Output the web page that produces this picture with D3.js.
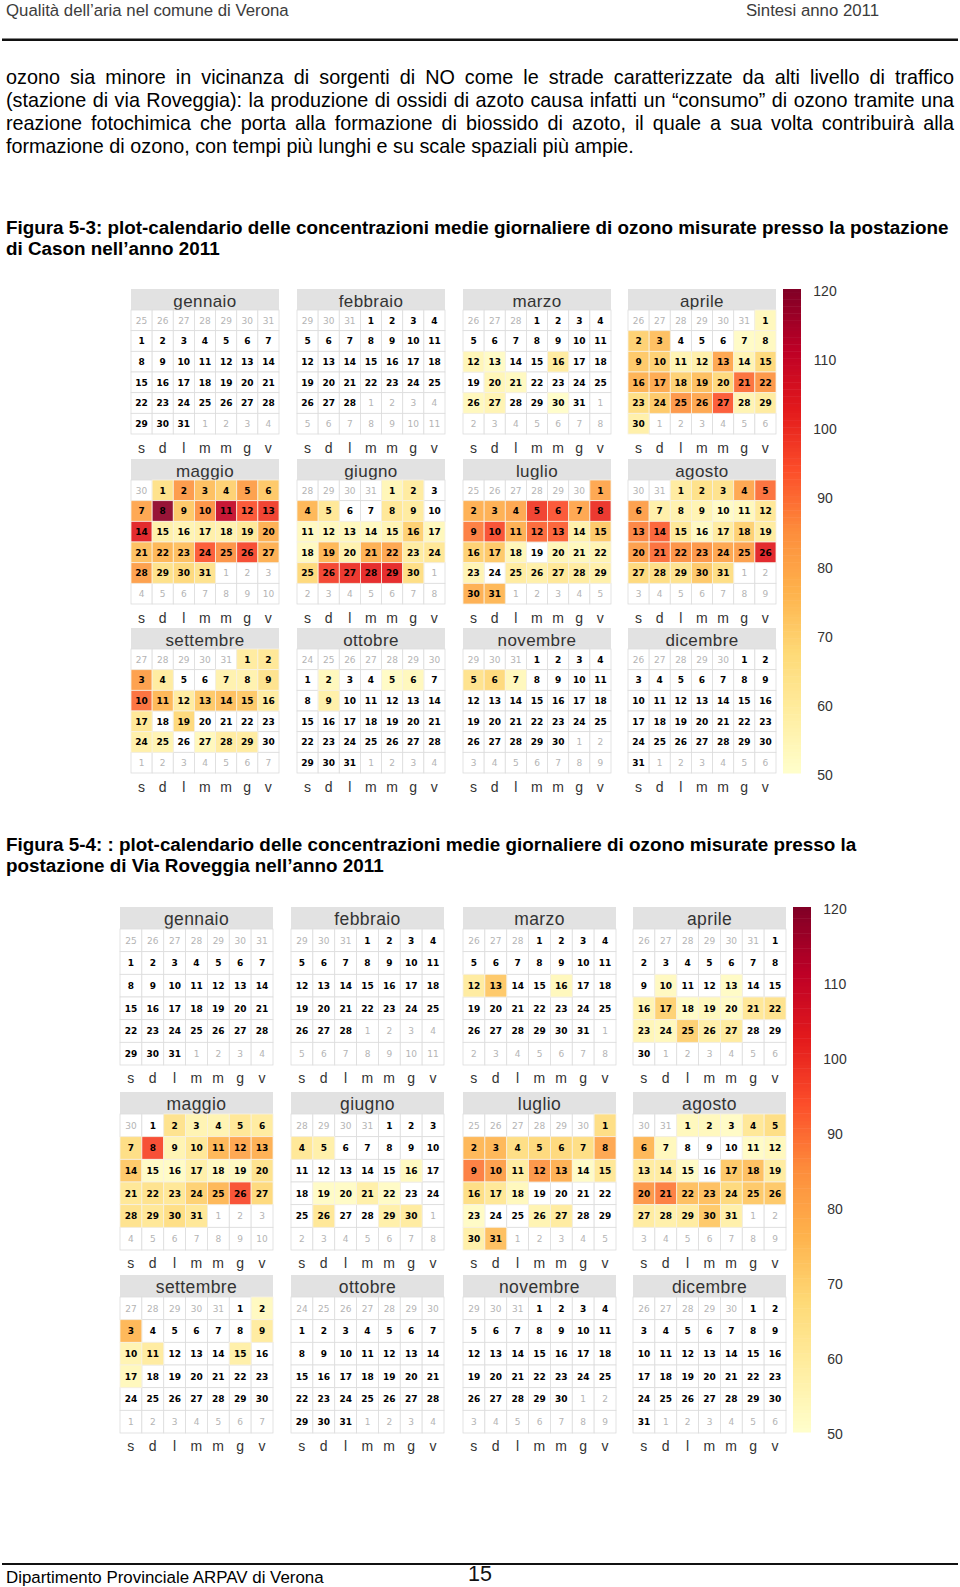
<!DOCTYPE html>
<html lang="it">
<head>
<meta charset="utf-8">
<script src="https://cdnjs.cloudflare.com/ajax/libs/d3/7.8.5/d3.min.js"></script>
<style>
html,body{margin:0;padding:0;background:#fff;width:960px;height:1587px;overflow:hidden;}
svg{position:absolute;left:0;top:0;}
.ln{position:absolute;left:6px;width:948px;font:19.8px/22px "Liberation Sans",Arial,sans-serif;color:#000;white-space:nowrap;}
.j{text-align:justify;text-align-last:justify;white-space:normal;}
.b{font-weight:bold;font-size:18.85px;}
</style>
</head>
<body>
<svg id="chart" width="960" height="1587"></svg>
<script>
const _ = null; // day below the 50 ug/m3 start of the colour scale (white cell)
const months = ["gennaio","febbraio","marzo","aprile","maggio","giugno","luglio","agosto","settembre","ottobre","novembre","dicembre"];
const weekdays = ["s","d","l","m","m","g","v"];
const legendTicks = [50,60,70,80,90,100,110,120];
const year = 2011;

const cason_gen = [_,_,_,_,_,_,_,_,_,_,_,_,_,_,_,_,_,_,_,_,_,_,_,_,_,_,_,_,_,_,_];
const cason_feb = [_,_,_,_,_,_,_,_,_,_,_,_,_,_,_,_,_,_,_,_,_,_,_,_,_,_,_,_];
const cason_mar = [_,_,_,_,_,_,_,_,_,_,_,55,52,_,_,60,_,_,_,55,53,_,_,_,_,54,56,_,_,51,_];
const cason_apr = [54,70,74,_,_,_,52,53,72,70,56,58,80,56,68,77,79,70,74,68,90,84,66,72,84,80,93,56,60,58];
const cason_mag = [65,83,74,70,82,72,80,118,72,85,110,94,98,103,58,56,58,57,62,78,74,76,74,93,85,96,78,82,65,68,64];
const cason_giu = [55,60,_,76,62,_,_,62,60,_,53,54,54,53,56,70,54,53,76,57,78,80,60,62,68,97,100,102,102,66];
const cason_lug = [80,78,78,80,98,94,80,100,88,95,78,91,92,58,72,70,72,55,_,55,54,56,56,_,60,58,62,60,58,78,76];
const cason_ago = [60,65,64,80,90,82,58,57,56,52,54,62,87,92,62,53,60,70,60,82,90,85,84,80,82,103,68,66,64,72,66];
const cason_set = [60,62,82,60,_,_,57,57,64,90,76,60,72,74,72,60,62,_,68,_,_,_,_,58,56,_,54,60,60,_];
const cason_ott = [_,54,_,_,52,54,_,_,58,_,_,_,_,_,_,_,_,_,_,_,_,_,_,_,_,_,_,_,_,_,_];
const cason_nov = [_,_,_,_,64,68,54,_,_,_,_,_,_,_,_,_,_,_,_,_,_,_,_,_,_,_,_,_,_,_];
const cason_dic = [_,_,_,_,_,_,_,_,_,_,_,_,_,_,_,_,_,_,_,_,_,_,_,_,_,_,_,_,_,_,_];

const rov_gen = [_,_,_,_,_,_,_,_,_,_,_,_,_,_,_,_,_,_,_,_,_,_,_,_,_,_,_,_,_,_,_];
const rov_feb = [_,_,_,_,_,_,_,_,_,_,_,_,_,_,_,_,_,_,_,_,_,_,_,_,_,_,_,_];
const rov_mar = [_,_,_,_,_,_,_,_,_,_,_,60,72,_,_,54,_,_,_,_,_,_,_,_,_,_,_,_,_,_,_];
const rov_apr = [_,_,_,_,_,_,_,_,_,53,_,_,52,_,_,56,70,52,54,52,62,64,55,54,70,58,60,_,_,_];
const rov_mag = [_,64,56,56,62,60,66,96,56,62,76,80,78,72,52,52,58,53,53,64,62,64,62,70,76,95,68,64,62,66,62];
const rov_giu = [_,_,_,62,58,_,_,_,_,_,_,_,_,_,_,53,_,_,52,52,58,52,_,_,_,62,_,_,58,60];
const rov_lug = [66,76,76,66,68,68,66,80,88,82,60,84,78,52,62,66,62,54,_,_,_,_,52,_,_,56,60,_,_,58,74];
const rov_ago = [54,54,52,62,66,76,54,_,_,_,52,54,60,60,52,_,72,74,60,84,88,74,74,68,72,72,60,58,60,72,58];
const rov_set = [_,53,76,_,_,_,_,_,60,56,60,_,_,_,58,_,54,_,_,_,_,_,_,_,_,_,_,_,_,_];
const rov_ott = [_,_,_,_,_,_,_,_,_,_,_,_,_,_,_,_,_,_,_,_,_,_,_,_,_,_,_,_,_,_,_];
const rov_nov = [_,_,_,_,_,_,_,_,_,_,_,_,_,_,_,_,_,_,_,_,_,_,_,_,_,_,_,_,_,_];
const rov_dic = [_,_,_,_,_,_,_,_,_,_,_,_,_,_,_,_,_,_,_,_,_,_,_,_,_,_,_,_,_,_,_];

const casonValues = [cason_gen,cason_feb,cason_mar,cason_apr,cason_mag,cason_giu,cason_lug,cason_ago,cason_set,cason_ott,cason_nov,cason_dic];
const roveggiaValues = [rov_gen,rov_feb,rov_mar,rov_apr,rov_mag,rov_giu,rov_lug,rov_ago,rov_set,rov_ott,rov_nov,rov_dic];

const paragraph = [
 "ozono sia minore in vicinanza di sorgenti di NO come le strade caratterizzate da alti livello di traffico",
 "(stazione di via Roveggia): la produzione di ossidi di azoto causa infatti un “consumo” di ozono tramite una",
 "reazione fotochimica che porta alla formazione di biossido di azoto, il quale a sua volta contribuirà alla",
 "formazione di ozono, con tempi più lunghi e su scale spaziali più ampie."
];
const caption1 = ["Figura 5-3: plot-calendario delle concentrazioni medie giornaliere di ozono misurate presso la postazione","di Cason nell’anno 2011"];
const caption2 = ["Figura 5-4: : plot-calendario delle concentrazioni medie giornaliere di ozono misurate presso la","postazione di Via Roveggia nell’anno 2011"];

// colour scale: YlOrRd from 50 to 120
const stops = d3.schemeYlOrRd[9];
const color = d3.scaleLinear()
  .domain(stops.map((c,i)=>50+i*70/(stops.length-1)))
  .range(stops).clamp(true);

const svg = d3.select("#chart");
const sans = '"Liberation Sans",Arial,sans-serif';

function htmlLine(t,top,cls,w){
  const dv = d3.select("body").append("div").attr("class","ln "+cls).style("top",top+"px").text(t);
  if(w) dv.style("width",w+"px");
}
// running head and footer
svg.append("text").attr("x",6).attr("y",15.5).attr("font-family",sans).attr("font-size",16.8).attr("fill","#3c3c3c").text("Qualità dell’aria nel comune di Verona");
svg.append("text").attr("x",879).attr("y",15.5).attr("text-anchor","end").attr("font-family",sans).attr("font-size",16.8).attr("fill","#3c3c3c").text("Sintesi anno 2011");
svg.append("rect").attr("x",2).attr("y",38.5).attr("width",956).attr("height",2.5).attr("fill","#111");
svg.append("rect").attr("x",2).attr("y",1563).attr("width",956).attr("height",2).attr("fill","#111");
svg.append("text").attr("x",6).attr("y",1583).attr("font-family",sans).attr("font-size",16.9).attr("fill","#000").text("Dipartimento Provinciale ARPAV di Verona");
svg.append("text").attr("x",468).attr("y",1581).attr("font-family",sans).attr("font-size",21.5).attr("fill","#111").text("15");

[66,89,112].forEach((top,i)=>htmlLine(paragraph[i],top,"j"));
htmlLine(paragraph[3],135,"");
htmlLine(caption1[0],217,"b");
htmlLine(caption1[1],238,"b");
htmlLine(caption2[0],834,"b");
htmlLine(caption2[1],855,"b");

function calendarFigure(values, L){
  const g = svg.append("g");
  const col = d3.scaleBand().domain(d3.range(7)).range([0,L.panelW]);
  const row = d3.scaleBand().domain(d3.range(6)).range([0,L.gridH]);

  months.forEach((name,m)=>{
    const x0 = L.panelX[m%4], y0 = L.panelY[Math.floor(m/4)];
    const p = g.append("g").attr("transform",`translate(${x0},${y0})`);
    p.append("rect").attr("width",L.panelW).attr("height",L.headH).attr("fill","#e2e2e2");
    p.append("text").attr("x",L.panelW/2).attr("y",L.headH-L.titleUp).attr("text-anchor","middle")
      .attr("font-family",sans).attr("font-size",L.titleSize).attr("letter-spacing",.4).attr("fill","#333").text(name);

    const first = new Date(Date.UTC(year,m,1));
    const wd = (first.getUTCDay()+1)%7;                 // week starts on Saturday
    const lead = wd===0 ? 7 : wd;                       // always show some of the previous month
    const start = d3.utcDay.offset(first,-lead);
    const cells = d3.utcDay.range(start,d3.utcDay.offset(start,42)).map((d,i)=>({
      d, i, inMonth:d.getUTCMonth()===m,
      v:d.getUTCMonth()===m ? values[m][d.getUTCDate()-1] : null
    }));
    const grid = p.append("g").attr("transform",`translate(0,${L.headH})`);
    const ordered = cells.slice().sort((a,b)=>(a.v===null?0:1)-(b.v===null?0:1));
    grid.selectAll("rect").data(ordered).join("rect")
      .attr("x",c=>col(c.i%7)).attr("y",c=>row(Math.floor(c.i/7)))
      .attr("width",col.bandwidth()).attr("height",row.bandwidth())
      .attr("fill",c=>c.v===null?"#fff":color(c.v))
      .attr("fill-opacity",c=>c.v===null?1:.92)
      .attr("stroke",c=>c.v===null?"#dcdcdc":"#f6f1e4").attr("stroke-width",.8);
    grid.selectAll("text").data(cells).join("text")
      .attr("x",c=>col(c.i%7)+col.bandwidth()/2).attr("y",c=>row(Math.floor(c.i/7))+row.bandwidth()/2+3.3)
      .attr("text-anchor","middle").attr("font-family",'"DejaVu Sans",sans-serif')
      .attr("font-size",9).attr("font-weight",c=>c.inMonth?"bold":"normal")
      .attr("fill",c=>c.inMonth?"#000":"#b4b4b4").text(c=>c.d.getUTCDate());
    p.selectAll("text.wd").data(weekdays).join("text").attr("class","wd")
      .attr("x",(w,i)=>col(i)+col.bandwidth()/2).attr("y",L.headH+L.gridH+L.wdOff)
      .attr("text-anchor","middle").attr("font-family",sans).attr("font-size",14).attr("letter-spacing",.3).attr("fill","#333").text(w=>w);
  });

  // colour bar
  const yBar = d3.scaleLinear().domain([50,120]).range([L.barBottom,L.barTop]);
  g.append("g").selectAll("rect").data(d3.range(50,120,0.5)).join("rect")
    .attr("x",L.barX).attr("width",L.barW)
    .attr("y",v=>yBar(v+0.5)).attr("height",v=>yBar(v)-yBar(v+0.5)+.5)
    .attr("fill",v=>color(v+0.25));
  const yAxis = d3.scaleLinear().domain([50,120]).range([L.tickBottom,L.tickTop]);
  const ax = g.append("g").attr("transform",`translate(${L.tickX},0)`)
    .call(d3.axisRight(yAxis).tickValues(legendTicks).tickSize(0).tickPadding(0));
  ax.select(".domain").remove();
  ax.selectAll("text").attr("font-family",sans).attr("font-size",14).attr("fill","#333").attr("text-anchor","middle");
}

calendarFigure(casonValues,{panelX:[131,297,463,628],panelY:[289,459,628],panelW:148,headH:21,gridH:124,wdOff:18.5,titleSize:17,titleUp:3.5,
  barX:783,barW:18,barTop:289,barBottom:773,tickTop:291,tickBottom:775,tickX:825});
calendarFigure(roveggiaValues,{panelX:[120,291,463,633],panelY:[907,1092,1275],panelW:153,headH:22,gridH:136,wdOff:18,titleSize:17.5,titleUp:4.5,
  barX:793,barW:18,barTop:907,barBottom:1432,tickTop:909,tickBottom:1434,tickX:835});
</script>
</body>
</html>
